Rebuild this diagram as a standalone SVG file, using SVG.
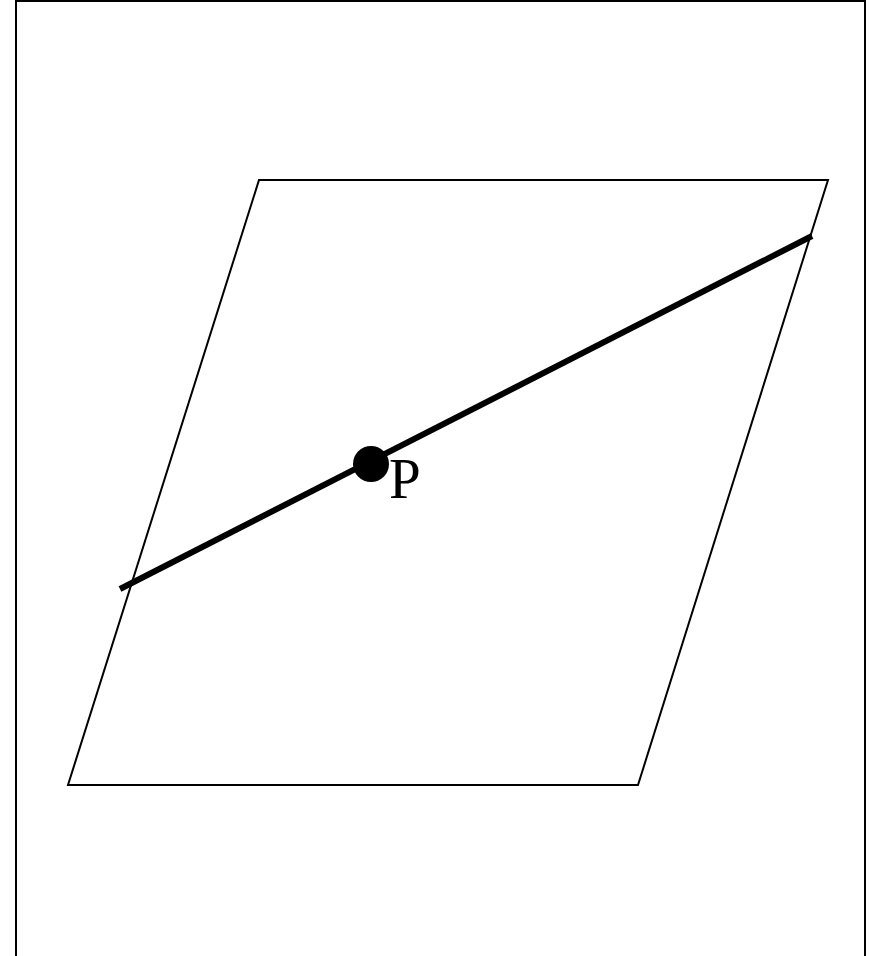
<svg xmlns="http://www.w3.org/2000/svg" width="876" height="956" viewBox="0 0 876 956">
<style>
.thin{fill:none;stroke:#000;stroke-width:2}
.thick{fill:none;stroke:#000;stroke-width:6}
.lbl{font-family:"Liberation Serif","Times New Roman",serif;font-size:57px;fill:#000}
</style>
<rect width="876" height="956" fill="#fff"/>
<g id="frame"><path class="thin" d="M16,960 V1 H865 V960"/></g>
<g id="plane"><polygon class="thin" points="259,180 828,180 638,785 68,785"/></g>
<g id="connectors"><line class="thick" x1="120" y1="589" x2="812" y2="236"/></g>
<g id="point"><circle cx="371" cy="464" r="18" fill="#000"/><text class="lbl" x="389" y="498">P</text></g>
</svg>
